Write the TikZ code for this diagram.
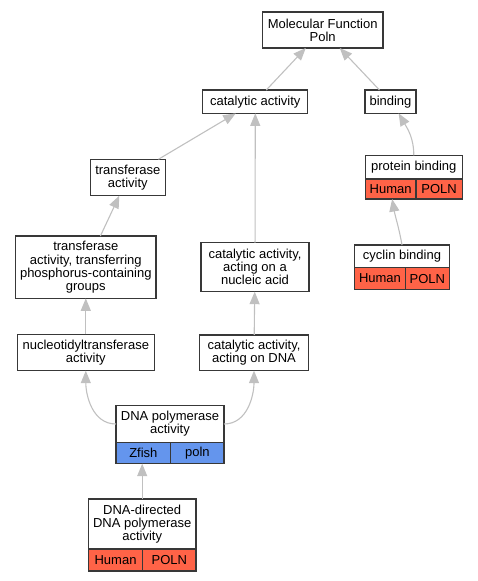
\documentclass[tikz,border=0pt]{standalone}
\usepackage{fontspec}
\setmainfont{Liberation Sans}
\usetikzlibrary{arrows.meta}
\definecolor{human}{HTML}{FF6347}
\definecolor{zfish}{HTML}{6495ED}
\definecolor{isagray}{HTML}{C0C0C0}
\newcommand\termfont{\fontsize{13}{13.1}\selectfont}
\tikzset{
  term/.style={draw=black!78, line width=1.2pt, fill=white, align=center, inner sep=0pt, outer sep=0pt, font=\termfont},
  cellh/.style={term, fill=human, anchor=north west},
  cellz/.style={term, fill=zfish, anchor=north west},
  isa/.style={draw=isagray, line width=1.1pt, -{Triangle[length=12.5pt,width=10pt,fill=isagray]}}
}
\begin{document}
\begin{tikzpicture}[x=1pt,y=-1pt]
  \useasboundingbox (0,0) rectangle (477,581);

  \node[term, minimum width=120.5pt, minimum height=36pt] (mf) at (322.7,30) {Molecular Function\\Poln};
  \node[term, minimum width=105pt, minimum height=23.3pt] (cat) at (255.3,101.7) {catalytic activity};
  \node[term, minimum width=51pt, minimum height=23.3pt] (bind) at (390.5,101.7) {binding};

  \node[term, minimum width=97pt, minimum height=23.7pt] (prot) at (413.8,167.2) {protein binding};
  \node[cellh, minimum width=50.7pt, minimum height=20pt] (prothum) at (prot.south west) {Human};
  \node[cellh, minimum width=46.3pt, minimum height=20pt] (protgene) at (prothum.north east) {POLN};

  \node[term, minimum width=94.6pt, minimum height=22.7pt] (cyc) at (402,256.4) {cyclin binding};
  \node[cellh, minimum width=50.6pt, minimum height=21.6pt] (cychum) at (cyc.south west) {Human};
  \node[cellh, minimum width=44pt, minimum height=21.6pt] (cycgene) at (cychum.north east) {POLN};

  \node[term, minimum width=75pt, minimum height=36.4pt] (transf) at (127.8,177.5) {transferase\\activity};
  \node[term, minimum width=140.3pt, minimum height=62.3pt] (phos) at (85.8,267.2) {transferase\\activity, transferring\\phosphorus-containing\\groups};
  \node[term, minimum width=137pt, minimum height=36.4pt] (nucl) at (85.8,352.5) {nucleotidyltransferase\\activity};
  \node[term, minimum width=108pt, minimum height=49pt] (nacid) at (255,267.2) {catalytic activity,\\acting on a\\nucleic acid};
  \node[term, minimum width=108.6pt, minimum height=35.7pt] (ondna) at (254,352.8) {catalytic activity,\\acting on DNA};

  \node[term, minimum width=108pt, minimum height=36.6pt] (dnapol) at (170,424) {DNA polymerase\\activity};
  \node[cellz, minimum width=54.7pt, minimum height=21.4pt] (dnapolfish) at (dnapol.south west) {Zfish};
  \node[cellz, minimum width=53.3pt, minimum height=21.4pt] (dnapolgene) at (dnapolfish.north east) {poln};

  \node[term, minimum width=107.7pt, minimum height=50pt] (dnadir) at (142.2,524) {DNA-directed\\DNA polymerase\\activity};
  \node[cellh, minimum width=54.4pt, minimum height=22pt] (dnadirhum) at (dnadir.south west) {Human};
  \node[cellh, minimum width=53.3pt, minimum height=22pt] (dnadirgene) at (dnadirhum.north east) {POLN};

  \draw[isa] (cat) -- (mf);
  \draw[isa] (bind) -- (mf);
  \draw[isa] (transf) -- (cat);
  \draw[isa] (nacid) -- (cat);
  \draw[isa] (prot.north) to[out=90,in=-60] (bind.-55);
  \draw[isa] (cyc.north) to[out=100,in=-80] ([xshift=1.5pt]prothum.south);
  \draw[isa] (phos) -- (transf);
  \draw[isa] (nucl) -- (phos);
  \draw[isa] (ondna) -- (nacid);
  \draw[isa] (dnapol.west) to[out=180,in=-90] (nucl.south);
  \draw[isa] (dnapol.east) to[out=0,in=-90] (ondna.south);
  \draw[isa] (dnadir.north) -- (dnadir.north |- dnapolfish.south);
\end{tikzpicture}
\end{document}
